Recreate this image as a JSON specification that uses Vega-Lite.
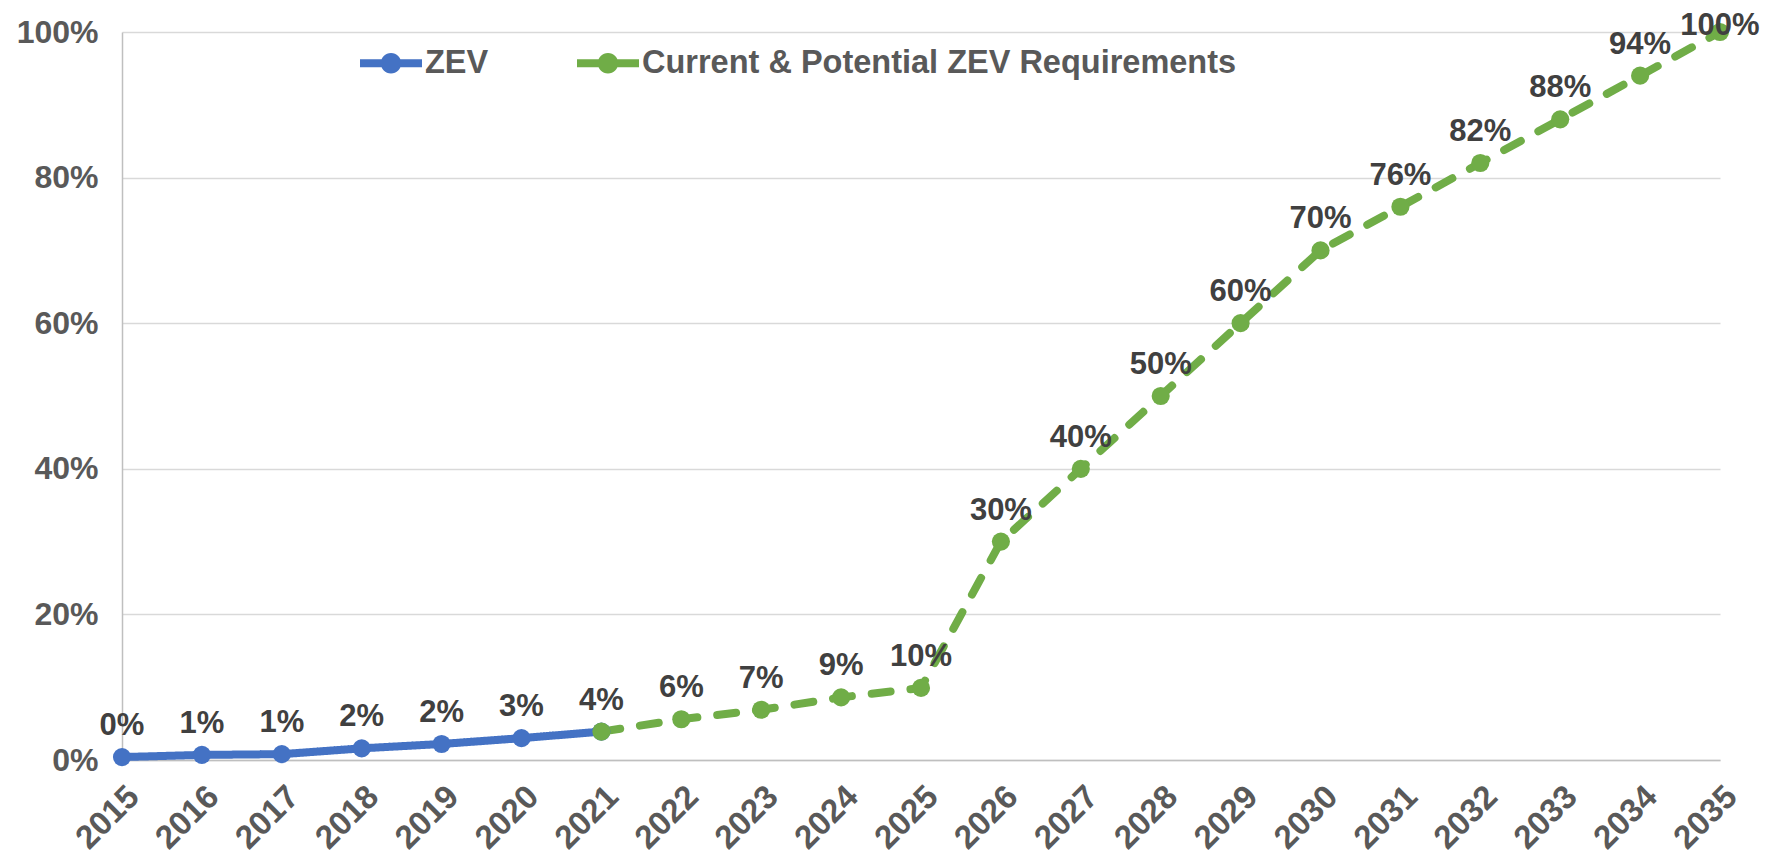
{
  "$schema": "https://vega.github.io/schema/vega-lite/v6.json",
  "width": 1598,
  "height": 728,
  "autosize": {"type": "none"},
  "padding": {"left": 122, "top": 32, "right": 58, "bottom": 97},
  "background": "white",
  "config": {"view": {"stroke": null}, "font": "Liberation Sans"},
  "data": {
    "values": [
      {"year": "2015", "value": 0.004, "series": "ZEV"},
      {"year": "2016", "value": 0.007, "series": "ZEV"},
      {"year": "2017", "value": 0.008, "series": "ZEV"},
      {"year": "2018", "value": 0.016, "series": "ZEV"},
      {"year": "2019", "value": 0.022, "series": "ZEV"},
      {"year": "2020", "value": 0.03, "series": "ZEV"},
      {"year": "2021", "value": 0.039, "series": "ZEV"},
      {"year": "2021", "value": 0.039, "series": "Current & Potential ZEV Requirements"},
      {"year": "2022", "value": 0.056, "series": "Current & Potential ZEV Requirements"},
      {"year": "2023", "value": 0.069, "series": "Current & Potential ZEV Requirements"},
      {"year": "2024", "value": 0.086, "series": "Current & Potential ZEV Requirements"},
      {"year": "2025", "value": 0.099, "series": "Current & Potential ZEV Requirements"},
      {"year": "2026", "value": 0.30, "series": "Current & Potential ZEV Requirements"},
      {"year": "2027", "value": 0.40, "series": "Current & Potential ZEV Requirements"},
      {"year": "2028", "value": 0.50, "series": "Current & Potential ZEV Requirements"},
      {"year": "2029", "value": 0.60, "series": "Current & Potential ZEV Requirements"},
      {"year": "2030", "value": 0.70, "series": "Current & Potential ZEV Requirements"},
      {"year": "2031", "value": 0.76, "series": "Current & Potential ZEV Requirements"},
      {"year": "2032", "value": 0.82, "series": "Current & Potential ZEV Requirements"},
      {"year": "2033", "value": 0.88, "series": "Current & Potential ZEV Requirements"},
      {"year": "2034", "value": 0.94, "series": "Current & Potential ZEV Requirements"},
      {"year": "2035", "value": 1.00, "series": "Current & Potential ZEV Requirements"}
    ]
  },
  "encoding": {
    "x": {
      "field": "year",
      "type": "ordinal",
      "sort": "ascending",
      "scale": {"type": "point", "padding": 0},
      "axis": {
        "title": null,
        "labelAngle": -45,
        "labelFontSize": 33,
        "labelFontWeight": "bold",
        "labelColor": "#595959",
        "ticks": false,
        "domainColor": "#bfbfbf",
        "domainWidth": 1.5,
        "labelPadding": 20,
        "grid": false
      }
    },
    "y": {
      "field": "value",
      "type": "quantitative",
      "scale": {"domain": [0, 1], "nice": false},
      "axis": {
        "title": null,
        "values": [0, 0.2, 0.4, 0.6, 0.8, 1],
        "format": ".0%",
        "labelFontSize": 32,
        "labelFontWeight": "bold",
        "labelColor": "#595959",
        "ticks": false,
        "domainColor": "#bfbfbf",
        "domainWidth": 1.5,
        "gridColor": "#d9d9d9",
        "gridWidth": 1.5,
        "labelPadding": 24
      }
    }
  },
  "layer": [
    {
      "mark": {"type": "line", "strokeWidth": 8, "strokeCap": "round"},
      "encoding": {
        "color": {
          "field": "series",
          "type": "nominal",
          "scale": {"domain": ["ZEV", "Current & Potential ZEV Requirements"], "range": ["#4472C4", "#70AD47"]},
          "legend": {
            "title": null,
            "orient": "none",
            "legendX": 238,
            "legendY": 0,
            "direction": "horizontal",
            "labelFontSize": 32.5,
            "labelFontWeight": "bold",
            "labelColor": "#595959",
            "labelLimit": 1000,
            "labelOffset": 3,
            "columnPadding": 88,
            "symbolType": "M-1,-0.13 L1,-0.13 L1,0.13 L-1,0.13 Z M0.33,0 A0.33,0.33 0 1,1 -0.33,0 A0.33,0.33 0 1,1 0.33,0 Z",
            "symbolSize": 3844,
            "encode": {
              "symbols": {
                "update": {
                  "fill": {"signal": "scale('color', datum.value)"},
                  "stroke": {"value": "transparent"},
                  "strokeWidth": {"value": 0},
                  "opacity": {"value": 1}
                }
              }
            }
          }
        },
        "strokeDash": {
          "field": "series",
          "type": "nominal",
          "scale": {"domain": ["ZEV", "Current & Potential ZEV Requirements"], "range": [[1, 0], [19, 20]]},
          "legend": null
        }
      }
    },
    {
      "mark": {"type": "point", "filled": true, "size": 330, "opacity": 1, "strokeWidth": 0},
      "encoding": {
        "color": {"field": "series", "type": "nominal"}
      }
    },
    {
      "transform": [{"filter": "!(datum.series != 'ZEV' && datum.year == '2021') && datum.value < 1"}],
      "mark": {"type": "text", "dy": -22, "baseline": "alphabetic", "fontSize": 31, "fontWeight": "bold", "color": "#404040"},
      "encoding": {
        "text": {"field": "value", "type": "quantitative", "format": ".0%"}
      }
    },
    {
      "transform": [{"filter": "datum.value >= 1"}],
      "mark": {"type": "text", "dy": 3, "baseline": "alphabetic", "fontSize": 31, "fontWeight": "bold", "color": "#404040"},
      "encoding": {
        "text": {"field": "value", "type": "quantitative", "format": ".0%"}
      }
    }
  ]
}
